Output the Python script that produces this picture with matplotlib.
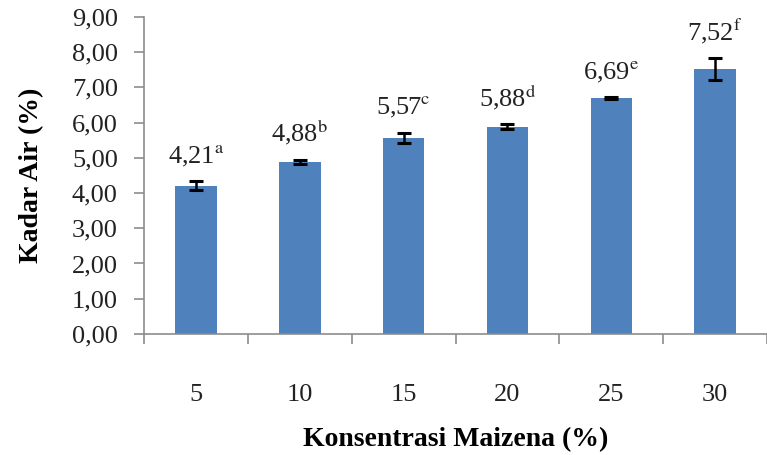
import numpy as np
import matplotlib
matplotlib.use("Agg")
from matplotlib import pyplot as plt
from matplotlib.ticker import FixedLocator, NullFormatter

plt.rcParams["font.family"] = "Liberation Serif"
plt.rcParams["mathtext.fontset"] = "stix"

concentrations = ["5", "10", "15", "20", "25", "30"]
moisture = [4.21, 4.88, 5.57, 5.88, 6.69, 7.52]
moisture_sd = [0.12, 0.06, 0.14, 0.07, 0.03, 0.30]
letters = ["a", "b", "c", "d", "e", "f"]
y_ticks = [0, 1, 2, 3, 4, 5, 6, 7, 8, 9]

BAR = "#4F81BD"
AXIS = "#8C8C8C"
TEXT = "#222222"

fig = plt.figure(figsize=(7.67, 4.55), dpi=100)
ax = fig.add_axes([0.188, 0.266, 0.812, 0.697])

x = np.arange(len(concentrations))
ax.bar(x, moisture, width=0.4, color=BAR, zorder=2)
ax.errorbar(x, moisture, yerr=moisture_sd, fmt="none", ecolor="black",
            elinewidth=1.8, capsize=5, capthick=2.2, zorder=3)

for xi, v, sd, lt in zip(x, moisture, moisture_sd, letters):
    txt = f"{v:.2f}".replace(".", ",") + r"$^{\mathrm{" + lt + "}}$"
    ax.annotate(txt, (xi, v + sd), xytext=(0, 9), textcoords="offset points",
                ha="center", va="bottom", fontsize=19, color=TEXT)

ax.set_xlim(-0.5, len(concentrations) - 0.5)
ax.set_ylim(0, 9)
ax.set_yticks(y_ticks)
ax.set_yticklabels([f"{t:.2f}".replace(".", ",") for t in y_ticks])

# boundary ticks between categories, labels sit on minor ticks at the centres
ax.xaxis.set_major_locator(FixedLocator(np.arange(-0.5, len(concentrations), 1.0)))
ax.xaxis.set_major_formatter(NullFormatter())
ax.xaxis.set_minor_locator(FixedLocator(x))
ax.set_xticklabels(concentrations, minor=True)
ax.tick_params(axis="x", which="major", direction="out", length=7, width=1.2, color=AXIS)
ax.tick_params(axis="x", which="minor", length=0, pad=36, labelsize=19, labelcolor=TEXT)
ax.tick_params(axis="y", direction="out", length=7, width=1.2, color=AXIS,
               pad=12, labelsize=19, labelcolor=TEXT)

for side in ("top", "right"):
    ax.spines[side].set_visible(False)
for side in ("left", "bottom"):
    ax.spines[side].set_color(AXIS)
    ax.spines[side].set_linewidth(1.2)

ax.set_xlabel("Konsentrasi Maizena (%)", fontsize=20, fontweight="bold", labelpad=15)
ax.set_ylabel("Kadar Air (%)", fontsize=20, fontweight="bold", labelpad=20)

fig.savefig("out.png", dpi=100)
